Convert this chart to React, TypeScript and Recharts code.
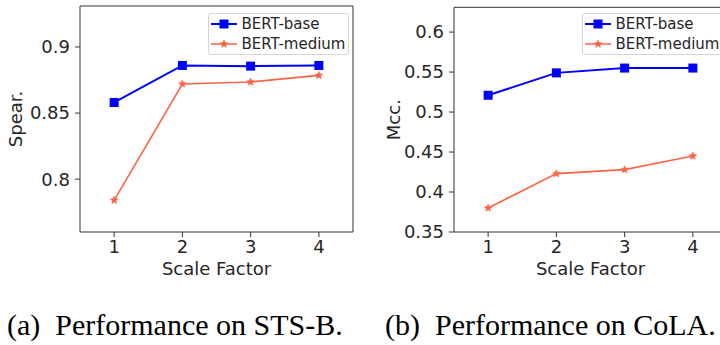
import { LineChart, Line, XAxis, YAxis, Legend, ReferenceArea, Label } from "recharts";

const scaleFactors = [1, 2, 3, 4];
const seriesNames = ["BERT-base", "BERT-medium"];
const stsbBase = [0.858, 0.886, 0.8855, 0.886];
const stsbMedium = [0.784, 0.872, 0.8735, 0.8785];
const colaBase = [0.521, 0.549, 0.555, 0.555];
const colaMedium = [0.38, 0.423, 0.428, 0.445];
const stsbTicks = [0.8, 0.85, 0.9];
const colaTicks = [0.35, 0.4, 0.45, 0.5, 0.55, 0.6];
const captions = ["(a)\u00a0 Performance on STS-B.", "(b)\u00a0 Performance on CoLA."];

const BLUE = "#0000ff";
const TOMATO = "#ff6347";
const FONT = "'DejaVu Sans', sans-serif";
const SERIF = "'Liberation Serif', 'Times New Roman', serif";
const INK = "#262626";

function buildRows(base: number[], medium: number[]) {
  return scaleFactors.map((x, i) => ({ x, base: base[i], medium: medium[i] }));
}

function starPath(cx: number, cy: number, r: number) {
  const inner = r * 0.45;
  let d = "";
  for (let i = 0; i < 10; i++) {
    const rad = i % 2 === 0 ? r : inner;
    const a = -Math.PI / 2 + (i * Math.PI) / 5;
    d += (i === 0 ? "M" : "L") + (cx + rad * Math.cos(a)).toFixed(2) + "," + (cy + rad * Math.sin(a)).toFixed(2);
  }
  return d + "Z";
}

function SquareDot(props: any) {
  const { cx, cy } = props;
  if (cx == null || cy == null) return null;
  return <rect x={cx - 4.5} y={cy - 4.5} width={9} height={9} fill={BLUE} />;
}

function StarDot(props: any) {
  const { cx, cy } = props;
  if (cx == null || cy == null) return null;
  return <path d={starPath(cx, cy, 4)} fill={TOMATO} stroke={TOMATO} strokeWidth={0.6} />;
}

function LegendBox() {
  const rows = [
    { name: seriesNames[0], color: BLUE, width: 2, marker: "square" },
    { name: seriesNames[1], color: TOMATO, width: 1.5, marker: "star" },
  ];
  return (
    <div
      style={{
        position: "relative",
        width: 141,
        height: 42,
        boxSizing: "border-box",
        border: "1px solid #d5d5d5",
        borderRadius: 3,
        background: "rgba(255,255,255,0.85)",
        fontFamily: FONT,
        fontSize: 15,
        color: INK,
      }}
    >
      {rows.map((r, i) => (
        <div
          key={r.name}
          style={{ position: "absolute", left: 2, top: 1 + i * 19.4, height: 19.4, display: "flex", alignItems: "center", whiteSpace: "nowrap" }}
        >
          <svg width={26} height={14} style={{ marginRight: 5 }}>
            <line x1={0} y1={7} x2={26} y2={7} stroke={r.color} strokeWidth={r.width} />
            {r.marker === "square" ? (
              <rect x={8.5} y={2.5} width={9} height={9} fill={r.color} />
            ) : (
              <path d={starPath(13, 7, 4)} fill={r.color} stroke={r.color} strokeWidth={0.6} />
            )}
          </svg>
          <span>{r.name}</span>
        </div>
      ))}
    </div>
  );
}

type PanelProps = {
  left: number;
  marginTop: number;
  base: number[];
  medium: number[];
  domain: [number, number];
  ticks: number[];
  yLabel: string;
  yLabelX: number;
};

function Panel(props: PanelProps) {
  const rows = buildRows(props.base, props.medium);
  const tickStyle = { fontSize: 18, fontFamily: FONT, fill: INK };
  return (
    <div style={{ position: "absolute", left: props.left, top: 0 }}>
      <LineChart width={360} height={290} data={rows} margin={{ top: props.marginTop, right: 7, bottom: 0, left: 0 }}>
        <XAxis
          dataKey="x"
          type="number"
          domain={[0.5, 4.5]}
          ticks={scaleFactors}
          height={58}
          axisLine={false}
          tickSize={5}
          tickMargin={3}
          tickLine={{ stroke: "#333" }}
          tick={tickStyle}
        >
          <Label
            content={(p: any) => (
              <text x={p.viewBox.x + p.viewBox.width / 2} y={p.viewBox.y + 43} textAnchor="middle" fontSize={18} fontFamily={FONT} fill={INK}>
                Scale Factor
              </text>
            )}
          />
        </XAxis>
        <YAxis
          type="number"
          domain={props.domain}
          ticks={props.ticks}
          allowDataOverflow
          width={80}
          axisLine={false}
          tickSize={5}
          tickMargin={5}
          tickLine={{ stroke: "#333" }}
          tick={tickStyle}
        >
          <Label
            content={(p: any) => {
              const cx = p.viewBox.x + props.yLabelX;
              const cy = p.viewBox.y + p.viewBox.height / 2;
              return (
                <text x={cx} y={cy} transform={`rotate(-90 ${cx} ${cy})`} textAnchor="middle" fontSize={18} fontFamily={FONT} fill={INK}>
                  {props.yLabel}
                </text>
              );
            }}
          />
        </YAxis>
        <ReferenceArea x1={0.5} x2={4.5} y1={props.domain[0]} y2={props.domain[1]} fill="none" stroke="#333" strokeWidth={1} ifOverflow="visible" />
        <Line dataKey="base" name={seriesNames[0]} stroke={BLUE} strokeWidth={2} dot={<SquareDot />} activeDot={false} isAnimationActive={false} />
        <Line dataKey="medium" name={seriesNames[1]} stroke={TOMATO} strokeWidth={1.6} dot={<StarDot />} activeDot={false} isAnimationActive={false} />
        <Legend
          layout="horizontal"
          verticalAlign="middle"
          align="center"
          wrapperStyle={{ left: 207.5, top: 12.7, width: 141 }}
          content={() => <LegendBox />}
        />
      </LineChart>
    </div>
  );
}

export default function App() {
  return (
    <div style={{ position: "absolute", left: 0, top: 0, width: 720, height: 345, overflow: "hidden", background: "#fff" }}>
      <Panel left={0} marginTop={6} base={stsbBase} medium={stsbMedium} domain={[0.76, 0.931]} ticks={stsbTicks} yLabel="Spear." yLabelX={21.7} />
      <Panel left={374} marginTop={7.3} base={colaBase} medium={colaMedium} domain={[0.35, 0.631]} ticks={colaTicks} yLabel="Mcc." yLabelX={26} />
      <svg width={720} height={345} style={{ position: "absolute", left: 0, top: 0, pointerEvents: "none" }}>
        <text x={7} y={335} fontFamily={SERIF} fontSize={30} fill="#000">
          {captions[0]}
        </text>
        <text x={385} y={335} fontFamily={SERIF} fontSize={30} fill="#000">
          {captions[1]}
        </text>
      </svg>
    </div>
  );
}
